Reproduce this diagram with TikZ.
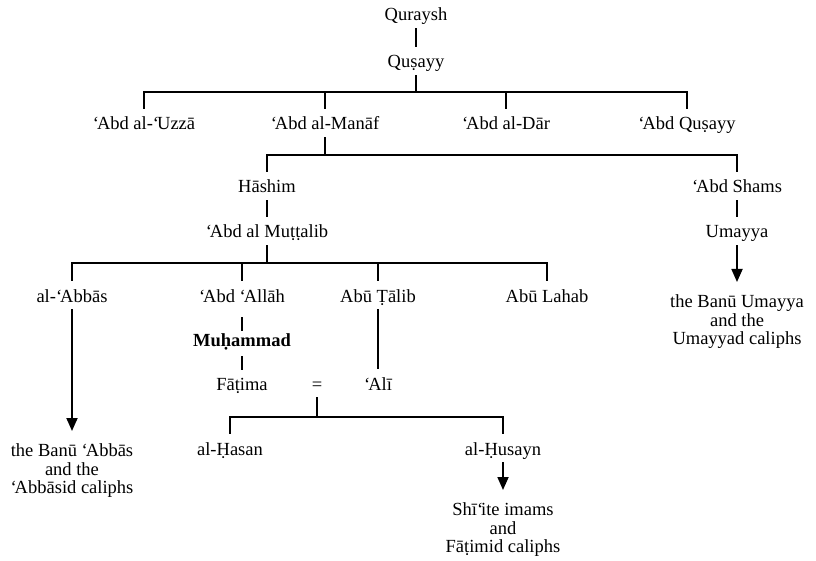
\documentclass[tikz,border=0pt]{standalone}
\usepackage{fontspec}
\setmainfont{Liberation Serif}
\usetikzlibrary{arrows.meta}
\newcommand\aynm{‘\kern-2pt}
\begin{document}
\begin{tikzpicture}[x=1pt,y=-1pt,
  every node/.style={font=\fontsize{18.5}{18}\selectfont},
  nm/.style={text height=18pt,text depth=4pt,inner xsep=2pt,inner ysep=3pt,anchor=base},
  blk/.style={align=center,inner xsep=0pt,inner ysep=12pt,anchor=north},
  ln/.style={line width=1.8pt},
  arr/.style={line width=1.8pt,-{Triangle[length=13pt,width=11pt]}}]
\useasboundingbox (0,0) rectangle (816,561);
% nodes
\node[nm] (qur) at (416,21) {Quraysh};
\node[nm] (qus) at (416,68) {Quṣayy};
\node[nm] (uzza) at (144,130) {\aynm Abd al-\aynm Uzzā};
\node[nm] (manaf) at (325,130) {\aynm Abd al-Manāf};
\node[nm] (dar) at (506,130) {\aynm Abd al-Dār};
\node[nm] (aqus) at (687,130) {\aynm Abd Quṣayy};
\node[nm] (hashim) at (267,193) {Hāshim};
\node[nm] (shams) at (737,193) {\aynm Abd Shams};
\node[nm] (mutt) at (267,238) {\aynm Abd al Muṭṭalib};
\node[nm] (umay) at (737,238) {Umayya};
\node[nm] (abbas) at (72,302) {al-\aynm Abbās};
\node[nm] (allah) at (242,302) {\aynm Abd \aynm Allāh};
\node[nm] (talib) at (378,302) {Abū Ṭālib};
\node[nm] (lahab) at (547,302) {Abū Lahab};
\node[blk] (banuumay) at (737,282) {\strut the Banū Umayya\\and the\\Umayyad caliphs};
\node[nm] (muh) at (242,346) {\bfseries Muḥammad};
\node[nm] (fatima) at (242,390) {Fāṭima};
\node[nm] (eq) at (317,390) {=};
\node[nm] (ali) at (378,390) {\aynm Alī};
\node[nm] (hasan) at (230,455) {al-Ḥasan};
\node[nm] (husayn) at (503,455) {al-Ḥusayn};
\node[blk] (banuabbas) at (72,431) {\strut the Banū \aynm Abbās\\and the\\\aynm Abbāsid caliphs};
\node[blk] (shia) at (503,490) {\strut Shī\aynm ite imams\\and\\Fāṭimid caliphs};
% connectors
\coordinate (b1) at (416,92);
\coordinate (b2) at (325,155);
\coordinate (b3) at (267,263);
\coordinate (b4) at (317,417);
\draw[ln] (qur.south) -- (qus.north);
\draw[ln] (qus.south) -- (b1);
\draw[ln] (uzza.north) -- (uzza.north |- b1) -- (aqus.north |- b1) -- (aqus.north);
\draw[ln] (manaf.north) -- (manaf.north |- b1);
\draw[ln] (dar.north) -- (dar.north |- b1);
\draw[ln] (manaf.south) -- (b2);
\draw[ln] (hashim.north) -- (hashim.north |- b2) -- (shams.north |- b2) -- (shams.north);
\draw[ln] (hashim.south) -- (mutt.north);
\draw[ln] (shams.south) -- (umay.north);
\draw[ln] (mutt.south) -- (b3);
\draw[ln] (abbas.north) -- (abbas.north |- b3) -- (lahab.north |- b3) -- (lahab.north);
\draw[ln] (allah.north) -- (allah.north |- b3);
\draw[ln] (talib.north) -- (talib.north |- b3);
\draw[arr] (abbas.south) -- (banuabbas.north);
\draw[arr] (umay.south) -- (banuumay.north);
\draw[ln,shorten <=8pt,shorten >=-6pt] (allah.south) -- (muh.north);
\draw[ln,shorten <=3pt,shorten >=-1pt] (muh.south) -- (fatima.north);
\draw[ln] (talib.south) -- (ali.north);
\draw[ln] (eq.south) -- (b4);
\draw[ln] (hasan.north) -- (hasan.north |- b4) -- (husayn.north |- b4) -- (husayn.north);
\draw[arr] (husayn.south) -- (shia.north);
\end{tikzpicture}
\end{document}
